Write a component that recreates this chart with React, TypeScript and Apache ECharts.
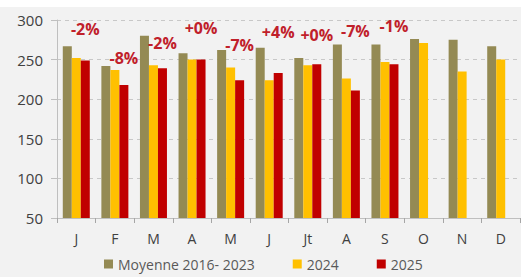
import React, { useEffect, useRef } from "react";
import * as echarts from "echarts";

const months = ["J", "F", "M", "A", "M", "J", "Jt", "A", "S", "O", "N", "D"];
const avg2016_2023 = [267, 242, 280, 258, 262, 265, 252, 269, 269, 276, 275, 267];
const values2024 = [252, 237, 243, 250, 240, 224, 243, 226, 247, 271, 235, 250];
const values2025 = [249, 218, 239, 250, 224, 233, 244, 211, 244, null, null, null];
const changeLabels = ["-2%", "-8%", "-2%", "+0%", "-7%", "+4%", "+0%", "-7%", "-1%"];
const labelLift = [33, 29, 27, 34, 37, 43, 31, 61, 40];

const FONT = "'Open Sans', 'Noto Sans', sans-serif";

export default function App() {
  const ref = useRef<HTMLDivElement>(null);
  useEffect(() => {
    if (!ref.current) return;
    const chart = echarts.init(ref.current, null, { renderer: "svg" });
    const redData = values2025.map((v, i) =>
      v == null
        ? null
        : {
            value: v,
            label: {
              show: i < changeLabels.length,
              formatter: changeLabels[i] || "",
              position: "top",
              distance: labelLift[i] - 10,
            },
          }
    );
    chart.setOption({
      animation: false,
      backgroundColor: "#f2f2f2",
      textStyle: { fontFamily: FONT },
      grid: { left: 57, right: 1, top: 13, bottom: 59 },
      legend: {
        bottom: 1,
        left: 99,
        itemWidth: 9,
        itemHeight: 9,
        itemGap: 38,
        icon: "rect",
        textStyle: { color: "#595959", fontSize: 14, fontFamily: FONT },
        data: ["Moyenne 2016- 2023", "2024", "2025"],
      },
      xAxis: {
        type: "category",
        data: months,
        axisLine: { lineStyle: { color: "#bfbfbf" } },
        axisTick: { show: true, length: 5, lineStyle: { color: "#a6a6a6" } },
        axisLabel: { color: "#404040", fontSize: 14, margin: 13, fontFamily: FONT },
      },
      yAxis: {
        type: "value",
        min: 50,
        max: 300,
        interval: 50,
        axisLine: { show: true, lineStyle: { color: "#bfbfbf" } },
        axisTick: { show: true, length: 6, lineStyle: { color: "#bfbfbf" } },
        axisLabel: { color: "#404040", fontSize: 15, margin: 14, fontFamily: FONT },
        splitLine: { lineStyle: { color: "#c8c8c8", type: [4, 4] } },
      },
      series: [
        {
          name: "Moyenne 2016- 2023",
          type: "bar",
          data: avg2016_2023,
          barWidth: 9,
          barGap: "0%",
          itemStyle: { color: "#948a54" },
        },
        {
          name: "2024",
          type: "bar",
          data: values2024,
          barWidth: 9,
          barGap: "0%",
          itemStyle: { color: "#ffc000" },
        },
        {
          name: "2025",
          type: "bar",
          data: redData,
          barWidth: 9,
          barGap: "0%",
          itemStyle: { color: "#c00000" },
          label: {
            show: true,
            color: "#c0202a",
            fontSize: 16,
            fontWeight: "bold",
            fontFamily: FONT,
          },
        },
      ],
    });
    return () => chart.dispose();
  }, []);
  return (
    <div
      ref={ref}
      style={{ position: "fixed", left: 0, top: 7, width: 521, height: 270 }}
    />
  );
}
